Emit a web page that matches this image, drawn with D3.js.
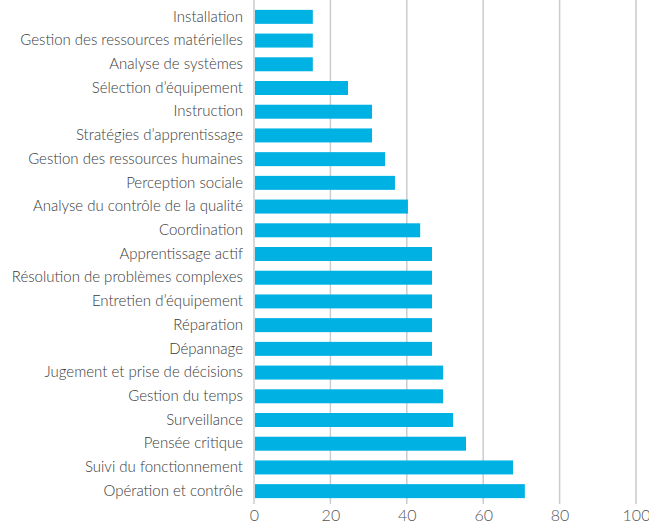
<!DOCTYPE html>
<html>
<head>
<meta charset="utf-8">
<script src="https://cdn.jsdelivr.net/npm/d3@7"></script>
<style>
  body { margin: 0; background: #fff; }
  svg { display: block; font-family: Lato, "Noto Sans", sans-serif; }
</style>
</head>
<body>
<svg></svg>
<script>
// skills, top to bottom
let categories = [
  "Installation",
  "Gestion des ressources matérielles",
  "Analyse de systèmes",
  "Sélection d\u2019équipement",
  "Instruction",
  "Stratégies d\u2019apprentissage",
  "Gestion des ressources humaines",
  "Perception sociale",
  "Analyse du contrôle de la qualité",
  "Coordination",
  "Apprentissage actif",
  "Résolution de problèmes complexes",
  "Entretien d\u2019équipement",
  "Réparation",
  "Dépannage",
  "Jugement et prise de décisions",
  "Gestion du temps",
  "Surveillance",
  "Pensée critique",
  "Suivi du fonctionnement",
  "Opération et contrôle"
];
let values = [15.4, 15.4, 15.4, 24.6, 30.9, 30.9, 34.3, 36.9, 40.3, 43.5,
  46.6, 46.6, 46.6, 46.6, 46.6, 49.5, 49.5, 52.1, 55.5, 67.8, 70.9];
let xTicks = [0, 20, 40, 60, 80, 100];

let width = 649;
let height = 529;
let left = 254;
let right = 636;

let svg = d3.select("svg").attr("width", width).attr("height", height);

let xScale = d3.scaleLinear().domain([0, 100]).range([left, right]);
let yScale = d3.scaleBand()
  .domain(categories)
  .range([5, 503])
  .paddingInner(0.41)
  .paddingOuter(0.205);

// grid lines
svg.append("g")
  .selectAll("line")
  .data(xTicks)
  .enter()
  .append("line")
  .attr("x1", (d) => xScale(d))
  .attr("x2", (d) => xScale(d))
  .attr("y1", 0)
  .attr("y2", 504)
  .attr("stroke", "#c9ccd1")
  .attr("stroke-width", 1.5);

// bars
svg.append("g")
  .selectAll("rect")
  .data(values)
  .enter()
  .append("rect")
  .attr("x", xScale(0) + 1)
  .attr("y", (d, i) => yScale(categories[i]))
  .attr("width", (d) => xScale(d) - xScale(0) - 1)
  .attr("height", yScale.bandwidth())
  .attr("fill", "#00b2e3");

// category labels
svg.append("g")
  .selectAll("text")
  .data(categories)
  .enter()
  .append("text")
  .attr("x", 243)
  .attr("y", (d) => yScale(d) + yScale.bandwidth() / 2 - 0.5)
  .attr("dy", "0.35em")
  .attr("text-anchor", "end")
  .attr("font-size", 15)
  .attr("font-weight", 300)
  .attr("fill", "#3a3a3a")
  .text((d) => d);

// x axis labels
let xAxis = d3.axisBottom(xScale).tickValues(xTicks).tickSize(0).tickPadding(6);
let gx = svg.append("g")
  .attr("transform", "translate(0,504)")
  .call(xAxis);
gx.select(".domain").remove();
gx.selectAll("text")
  .attr("font-size", 16)
  .attr("font-family", "Lato, sans-serif")
  .attr("font-weight", 300)
  .attr("fill", "#555");
</script>
</body>
</html>
